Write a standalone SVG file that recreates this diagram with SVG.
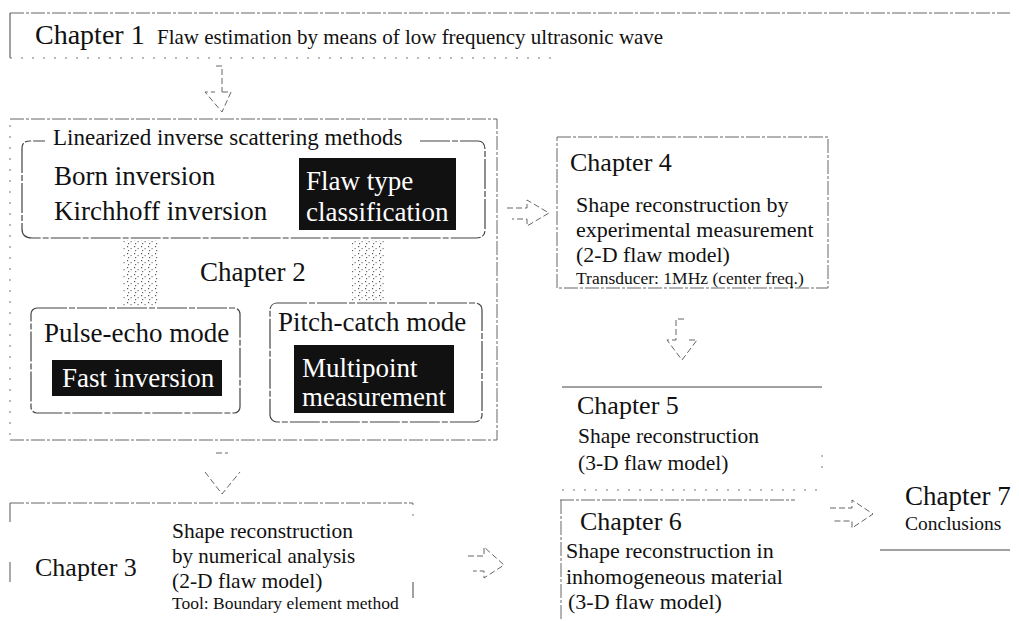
<svg xmlns="http://www.w3.org/2000/svg" width="1019" height="621" viewBox="0 0 1019 621">
<defs>
<style>
text{font-family:"Liberation Serif","Times New Roman",serif;fill:#111}
.ch{font-size:26px}
.b{font-size:27px}
.m{font-size:22px}
.s{font-size:17.5px}
.w{fill:#fff}
.frame{fill:none;stroke:#666;stroke-width:1;stroke-dasharray:14 2 3 2}
.dot{fill:none;stroke:#777;stroke-width:1;stroke-dasharray:2 9}
.rb{fill:none;stroke:#444;stroke-width:1.2;stroke-dasharray:30 2 6 2}
.arr{fill:none;stroke:#666;stroke-width:1;stroke-dasharray:6 3}
.blk{fill:#111}
</style>
<pattern id="stip" width="7" height="7" patternUnits="userSpaceOnUse">
<rect x="1" y="1" width="1.2" height="1.2" fill="#555"/>
<rect x="4.5" y="3" width="1.2" height="1.2" fill="#777"/>
<rect x="2" y="5" width="1.2" height="1.2" fill="#666"/>
</pattern>
</defs>

<g id="chapter1">
<line x1="10" y1="13" x2="1010" y2="13" class="frame"/>
<line x1="10" y1="13" x2="10" y2="58" stroke="#444" stroke-width="1"/>
<line x1="10" y1="58" x2="560" y2="58" class="dot"/>
<text x="35" y="44" class="ch" style="font-size:28px">Chapter 1</text>
<text x="157" y="44" style="font-size:21px">Flaw estimation by means of low frequency ultrasonic wave</text>
</g>

<g id="chapter2">
<path d="M10,119 H497 V440 H10" class="frame"/>
<line x1="10" y1="125" x2="10" y2="440" class="dot"/>
<g id="linearized">
<path d="M420,141 H478 Q485,141 485,150 V230 Q485,238 476,238 H32 Q22,238 22,229 V148 Q22,141 30,141 H45" class="rb"/>
<text x="53" y="145" style="font-size:23px">Linearized inverse scattering methods</text>
<text x="54" y="185" class="b">Born inversion</text>
<text x="54" y="220" class="b">Kirchhoff inversion</text>
<rect x="299" y="158" width="157" height="72" class="blk"/>
<text x="306" y="190" class="b w">Flaw type</text>
<text x="306" y="221" class="b w">classification</text>
</g>
<text x="200" y="281" class="b">Chapter 2</text>
<g id="pulse-echo">
<rect x="31" y="308" width="209" height="105" rx="6" class="rb"/>
<text x="44" y="342" class="b">Pulse-echo mode</text>
<rect x="52" y="360" width="170" height="36" class="blk"/>
<text x="62" y="387" class="b w">Fast inversion</text>
</g>
<g id="pitch-catch">
<rect x="270" y="303" width="212" height="119" rx="7" class="rb"/>
<text x="278" y="331" class="b">Pitch-catch mode</text>
<rect x="294" y="345" width="160" height="68" class="blk"/>
<text x="302" y="377" class="b w">Multipoint</text>
<text x="302" y="406" class="b w">measurement</text>
</g>
</g>

<g id="chapter4">
<rect x="557" y="137" width="271" height="151" class="frame"/>
<text x="570" y="171" class="ch">Chapter 4</text>
<text x="576" y="212" class="m">Shape reconstruction by</text>
<text x="576" y="237" class="m">experimental measurement</text>
<text x="576" y="262" class="m">(2-D flaw model)</text>
<text x="576" y="284" class="s">Transducer: 1MHz (center freq.)</text>
</g>

<g id="chapter5">
<line x1="562" y1="387" x2="822" y2="387" stroke="#444" stroke-width="1"/>
<line x1="562" y1="490" x2="822" y2="490" class="dot"/>
<line x1="822" y1="455" x2="822" y2="468" class="dot"/>
<text x="577" y="414" class="ch">Chapter 5</text>
<text x="578" y="443" style="font-size:21.5px">Shape reconstruction</text>
<text x="578" y="470" style="font-size:21.5px">(3-D flaw model)</text>
</g>

<g id="chapter6">
<line x1="560" y1="500" x2="795" y2="500" class="frame"/>
<line x1="561" y1="500" x2="561" y2="621" class="frame"/>
<text x="580" y="530" class="ch">Chapter 6</text>
<text x="566" y="558" class="m">Shape reconstruction in</text>
<text x="566" y="584" class="m">inhomogeneous material</text>
<text x="568" y="609" class="m">(3-D flaw model)</text>
</g>

<g id="chapter3">
<line x1="10" y1="503" x2="413" y2="503" class="frame"/>
<line x1="10" y1="503" x2="10" y2="522" stroke="#555"/>
<line x1="10" y1="562" x2="10" y2="582" stroke="#555"/>
<line x1="413" y1="503" x2="413" y2="520" class="dot"/>
<line x1="413" y1="582" x2="413" y2="598" stroke="#444"/>
<text x="35" y="576" class="ch">Chapter 3</text>
<text x="172" y="538" style="font-size:21.5px">Shape reconstruction</text>
<text x="172" y="563" style="font-size:21px">by numerical analysis</text>
<text x="172" y="588" style="font-size:21.5px">(2-D flaw model)</text>
<text x="172" y="609" class="s">Tool: Boundary element method</text>
</g>

<g id="chapter7">
<text x="905" y="505" class="ch" style="font-size:27px">Chapter 7</text>
<text x="905" y="530" style="font-size:19.5px">Conclusions</text>
<line x1="880" y1="550" x2="1010" y2="550" stroke="#444" stroke-width="1"/>
</g>

<g id="connectors">
<path d="M216,66 H222 V92 M222,92 H231 L222,112 L205,92 H215" class="arr"/>
<path d="M216,453 H228 M205,472 L222,494 L240,472" class="arr"/>
<path d="M507,208 H527 V200 L549,213 L527,226 V219 H512" class="arr"/>
<path d="M684,319 H676 V340 H667 L682,360 L697,340 H688" class="arr"/>
<path d="M468,556 H484 V547 L504,565 L484,578 V571 H473" class="arr"/>
<path d="M830,508 H852 V500 L873,514 L852,528 V521 H832" class="arr"/>
<rect x="123" y="240" width="35" height="66" fill="url(#stip)"/>
<rect x="352" y="240" width="33" height="62" fill="url(#stip)"/>
</g>
</svg>
